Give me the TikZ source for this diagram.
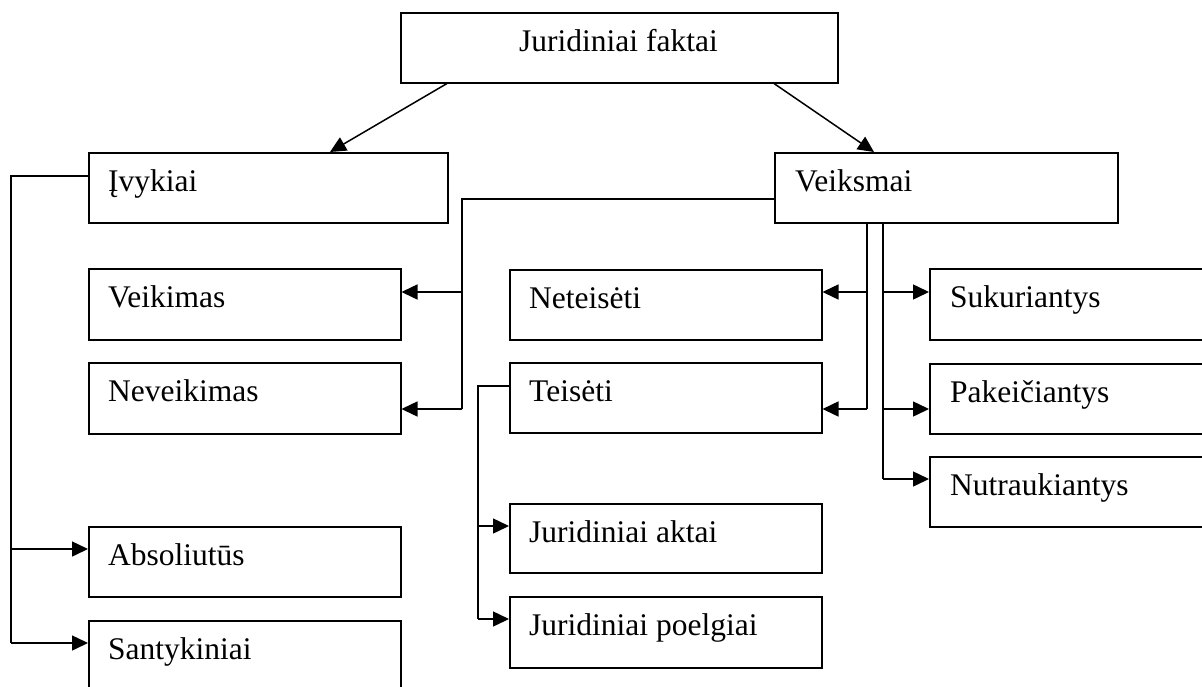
\documentclass[tikz,border=0pt]{standalone}
\usepackage{fontspec}
\setmainfont{Liberation Serif}
\usetikzlibrary{arrows.meta,calc}
\tikzset{
  box/.style={draw, line width=1.5pt, anchor=north west, inner sep=0pt, minimum height=70pt},
  lbl/.style={anchor=base west, inner sep=0pt, font=\fontsize{31.5}{37}\selectfont},
  ln/.style={line width=1.5pt},
  arr/.style={line width=1.5pt, -{Triangle[length=16pt,width=15pt]}}
}
\begin{document}
\begin{tikzpicture}[x=1pt,y=-1pt]
\useasboundingbox (0,0) rectangle (1202,686);
\fill[white] (0,0) rectangle (1202,686);
\clip (0,0) rectangle (1202,686);
% boxes
\node[box, minimum width=437pt] (jf) at (400,12) {};
\node[anchor=base, inner sep=0pt, font=\fontsize{31.5}{37}\selectfont] (jft) at (618.5,51) {Juridiniai faktai};
\node[box, minimum width=359pt] (ivy) at (88,152) {};
\node[lbl] (ivyt) at ($(ivy.north west)+(20,39)$) {Įvykiai};
\node[box, minimum width=343pt] (vei) at (774,152) {};
\node[lbl] (veit) at ($(vei.north west)+(21,39)$) {Veiksmai};
\node[box, minimum width=312pt, minimum height=71pt] (veik) at (88,268) {};
\node[lbl] (veikt) at ($(veik.north west)+(20,39)$) {Veikimas};
\node[box, minimum width=312pt, minimum height=71pt] (nevk) at (88,362) {};
\node[lbl] (nevkt) at ($(nevk.north west)+(20,39)$) {Neveikimas};
\node[box, minimum width=312pt] (net) at (509,269) {};
\node[lbl] (nett) at ($(net.north west)+(20,39)$) {Neteisėti};
\node[box, minimum width=312pt] (tei) at (509,362) {};
\node[lbl] (teit) at ($(tei.north west)+(20,39)$) {Teisėti};
\node[box, minimum width=300pt, minimum height=71pt] (suk) at (929,268) {};
\node[lbl] (sukt) at ($(suk.north west)+(21,39)$) {Sukuriantys};
\node[box, minimum width=300pt] (pak) at (929,363) {};
\node[lbl] (pakt) at ($(pak.north west)+(21,39)$) {Pakeičiantys};
\node[box, minimum width=300pt] (nut) at (929,456) {};
\node[lbl] (nutt) at ($(nut.north west)+(21,39)$) {Nutraukiantys};
\node[box, minimum width=312pt, minimum height=69pt] (jakt) at (509,503) {};
\node[lbl] (jaktt) at ($(jakt.north west)+(20,39)$) {Juridiniai aktai};
\node[box, minimum width=312pt, minimum height=71pt] (jpoel) at (509,596) {};
\node[lbl] (jpoelt) at ($(jpoel.north west)+(20,39)$) {Juridiniai poelgiai};
\node[box, minimum width=312pt] (abs) at (88,526) {};
\node[lbl] (abst) at ($(abs.north west)+(20,39)$) {Absoliutūs};
\node[box, minimum width=312pt, minimum height=90pt] (san) at (88,620) {};
\node[lbl] (sant) at ($(san.north west)+(20,39)$) {Santykiniai};
% top arrows
\draw[arr] ($(jf.south west)+(47,0)$) -- ($(ivy.north west)+(242,0)$);
\draw[arr] ($(jf.south west)+(374,0)$) -- ($(vei.north west)+(100,0)$);
% Veiksmai -> Veikimas / Neveikimas
\coordinate (va) at (462,199);
\coordinate (vb) at (462,409);
\coordinate (vc) at (462,292);
\draw[ln] ($(vei.north west)+(0,47)$) -- (va) -- (vb);
\draw[arr] (vb) -- (nevk.east |- vb);
\draw[arr] (vc) -- (veik.east |- vc);
% Veiksmai -> Neteisėti / Teisėti
\coordinate (wa) at (867,222);
\coordinate (wb) at (867,409);
\coordinate (wc) at (867,292);
\draw[ln] (wa) -- (wb);
\draw[arr] (wb) -- (tei.east |- wb);
\draw[arr] (wc) -- (net.east |- wc);
% Veiksmai -> Sukuriantys / Pakeičiantys / Nutraukiantys
\coordinate (xa) at (883,222);
\coordinate (xb) at (883,292);
\coordinate (xc) at (883,409);
\coordinate (xd) at (883,479);
\draw[ln] (xa) -- (xd);
\draw[arr] (xb) -- (suk.west |- xb);
\draw[arr] (xc) -- (pak.west |- xc);
\draw[arr] (xd) -- (nut.west |- xd);
% Įvykiai -> Absoliutūs / Santykiniai
\coordinate (ya) at (11,176);
\coordinate (yb) at (11,643);
\coordinate (yc) at (11,549);
\draw[ln] ($(ivy.north west)+(0,24)$) -- (ya) -- (yb);
\draw[arr] (yb) -- (san.west |- yb);
\draw[arr] (yc) -- (abs.west |- yc);
% Teisėti -> Juridiniai aktai / poelgiai
\coordinate (za) at (478,386);
\coordinate (zb) at (478,619);
\coordinate (zc) at (478,526);
\draw[ln] ($(tei.north west)+(0,24)$) -- (za) -- (zb);
\draw[arr] (zb) -- (jpoel.west |- zb);
\draw[arr] (zc) -- (jakt.west |- zc);
\end{tikzpicture}
\end{document}
